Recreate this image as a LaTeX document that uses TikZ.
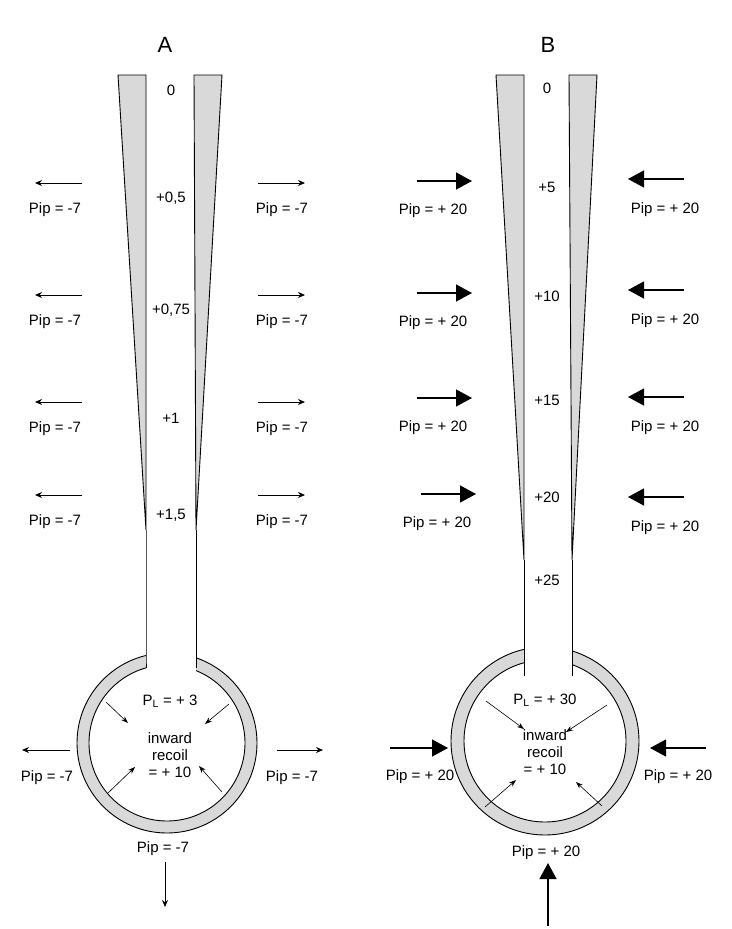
\documentclass[tikz,border=0pt]{standalone}
\usepackage{fontspec}
\setmainfont{Liberation Sans}
\usetikzlibrary{arrows.meta}
\begin{document}
\begin{tikzpicture}[x=1pt,y=-1pt,
  lbl/.style={font=\fontsize{15}{17}\selectfont,inner sep=0pt},
  thin/.style={-{Stealth[length=7pt,width=6pt]},line width=0.8pt},
  thick/.style={-{Triangle[length=16pt,width=17pt]},line width=1.3pt},
  inar/.style={-{Stealth[length=7pt,width=5pt]},line width=0.6pt},
  wall/.style={fill=black!15,draw=black,line width=0.9pt}]
\useasboundingbox (0,0) rectangle (731,929);
\node[lbl,font=\fontsize{22}{24}\selectfont] (tA) at (165,45) {A};
\node[lbl,font=\fontsize{22}{24}\selectfont] (tB) at (548,45) {B};
% ---- A
\fill[wall] (167,743) circle (90);
\fill[white,draw=black,line width=0.9pt] (167,743) circle (78);
\fill[white] (146,640) rectangle (196,680);
\draw[line width=0.9pt] (146,530) -- (146,660) -- (146,668);
\draw[line width=0.9pt] (196,530) -- (196,668);
\draw[wall] (118,75) -- (146,75) -- (146,530) -- cycle;
\draw[wall] (194,75) -- (222,75) -- (196,530) -- cycle;
\foreach \y/\t in {90/0,198/{+0,5},310/{+0,75},418/{+1},515/{+1,5}}
  \node[lbl] at (171,\y) {\t};
\foreach \y in {183,295,402,495}{
  \draw[thin] (82,\y) -- (35,\y);
  \draw[thin] (258,\y) -- (305,\y);
  \node[lbl] at (55,\y+27) {Pip = -7};
  \node[lbl] at (282,\y+27) {Pip = -7};
}
\node[lbl] (pla) at (170,701) {P\textsubscript{L} = + 3};
\node[lbl,align=center] (ira) at (170,755) {inward\\recoil\\= + 10};
\draw[inar] (106,702) -- (128,723);
\draw[inar] (229,704) -- (205,724);
\draw[inar] (108,793) -- (135,767);
\draw[inar] (222,792) -- (199,766);
\draw[thin] (70,750) -- (22,750);
\draw[thin] (277,750) -- (323,750);
\node[lbl] at (47,778) {Pip = -7};
\node[lbl] at (292,778) {Pip = -7};
\node[lbl] at (163,849) {Pip = -7};
\draw[thin] (165,862) -- (165,907);
% ---- B
\fill[wall] (545,741) circle (94);
\fill[white,draw=black,line width=0.9pt] (545,741) circle (81);
\fill[white] (524,640) rectangle (572,680);
\draw[line width=0.9pt] (524,560) -- (524,676);
\draw[line width=0.9pt] (572,560) -- (572,676);
\draw[wall] (496,75) -- (524,75) -- (524,560) -- cycle;
\draw[wall] (569,75) -- (597,75) -- (572,560) -- cycle;
\foreach \y/\t in {88/0,187/{+5},296/{+10},400/{+15},497/{+20},580/{+25}}
  \node[lbl] at (547,\y) {\t};
\foreach \y/\d in {181/0,293/0,398/0,494/4}{
  \draw[thick] (417+\d,\y) -- (472+\d,\y);
  \node[lbl] at (433+\d,\y+30) {Pip = + 20};
}
\foreach \y in {179,290,397,497}{
  \draw[thick] (684,\y) -- (628,\y);
  \node[lbl] at (665,\y+31) {Pip = + 20};
}
\node[lbl] (plb) at (545,700) {P\textsubscript{L} = + 30};
\node[lbl,align=center] (irb) at (545,752) {inward\\recoil\\= + 10};
\draw[inar] (486,701) -- (524,729);
\draw[inar] (607,705) -- (566,732);
\draw[inar] (485,807) -- (516,780);
\draw[inar] (602,806) -- (576,782);
\draw[thick] (390,748) -- (448,748);
\draw[thick] (706,748) -- (650,748);
\node[lbl] at (420,777) {Pip = + 20};
\node[lbl] at (678,777) {Pip = + 20};
\node[lbl] at (546,853) {Pip = + 20};
\draw[thick] (548,926) -- (548,863);
\end{tikzpicture}
\end{document}
